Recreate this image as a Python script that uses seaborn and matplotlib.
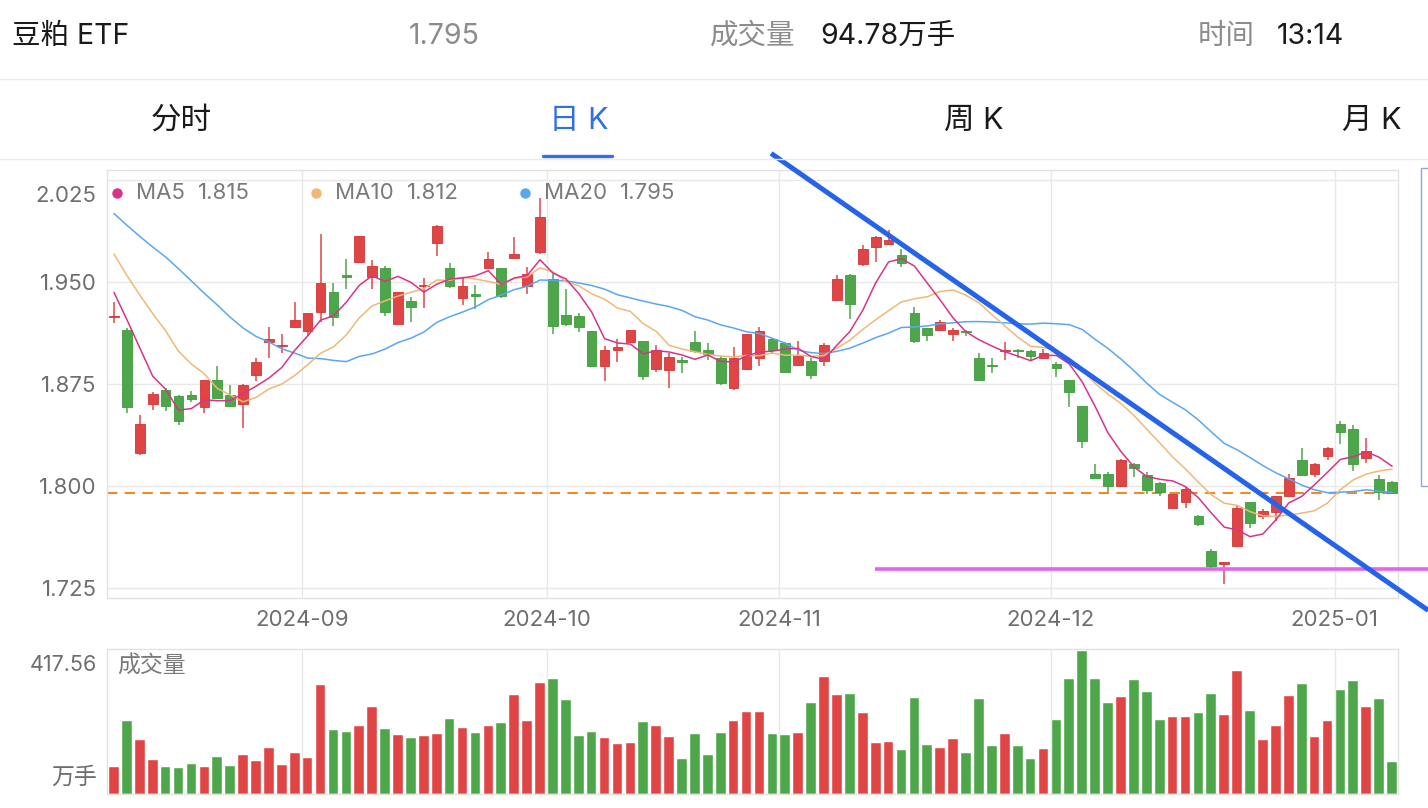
import numpy as np
import pandas as pd
import seaborn as sns
import matplotlib.pyplot as plt
from matplotlib.lines import Line2D
from matplotlib.patches import Rectangle
from matplotlib.transforms import ScaledTranslation

# -------------------------------------------------
# Data (daily K, 2024-08-12 .. 2025-01-08)
# -------------------------------------------------
open_ = [1.924, 1.915, 1.824, 1.860, 1.871, 1.866, 1.867, 1.858, 1.878, 1.867,
         1.860, 1.882, 1.906, 1.903, 1.917, 1.914, 1.928, 1.943, 1.955, 1.965,
         1.954, 1.960, 1.919, 1.936, 1.947, 1.979, 1.960, 1.938, 1.941, 1.960,
         1.960, 1.968, 1.947, 1.972, 1.952, 1.926, 1.925, 1.914, 1.888, 1.900,
         1.906, 1.907, 1.886, 1.885, 1.893, 1.906, 1.900, 1.894, 1.872, 1.886,
         1.894, 1.908, 1.905, 1.889, 1.892, 1.892, 1.937, 1.955, 1.963, 1.976,
         1.978, 1.970, 1.927, 1.916, 1.915, 1.912, 1.914, 1.894, 1.889, 1.899,
         1.900, 1.899, 1.894, 1.890, 1.878, 1.859, 1.809, 1.809, 1.800, 1.816,
         1.808, 1.802, 1.784, 1.788, 1.778, 1.752, 1.743, 1.756, 1.788, 1.778,
         1.781, 1.793, 1.819, 1.809, 1.822, 1.846, 1.842, 1.821, 1.805, 1.803]
high = [1.935, 1.916, 1.852, 1.869, 1.872, 1.867, 1.870, 1.878, 1.888, 1.874,
        1.875, 1.894, 1.917, 1.912, 1.935, 1.927, 1.985, 1.949, 1.967, 1.984,
        1.966, 1.962, 1.943, 1.939, 1.953, 1.992, 1.964, 1.953, 1.948, 1.972,
        1.960, 1.983, 1.961, 2.012, 1.956, 1.945, 1.927, 1.914, 1.903, 1.908,
        1.915, 1.907, 1.904, 1.898, 1.895, 1.914, 1.905, 1.896, 1.902, 1.912,
        1.917, 1.909, 1.906, 1.907, 1.894, 1.905, 1.955, 1.956, 1.977, 1.984,
        1.988, 1.974, 1.932, 1.916, 1.922, 1.916, 1.915, 1.898, 1.894, 1.906,
        1.901, 1.900, 1.901, 1.891, 1.878, 1.859, 1.816, 1.810, 1.820, 1.817,
        1.810, 1.803, 1.794, 1.799, 1.779, 1.754, 1.744, 1.785, 1.788, 1.783,
        1.793, 1.809, 1.828, 1.817, 1.829, 1.848, 1.845, 1.835, 1.808, 1.804]
low = [1.920, 1.854, 1.823, 1.856, 1.855, 1.845, 1.862, 1.854, 1.865, 1.858,
       1.843, 1.877, 1.894, 1.898, 1.917, 1.910, 1.921, 1.918, 1.945, 1.964,
       1.945, 1.925, 1.919, 1.921, 1.931, 1.969, 1.946, 1.933, 1.930, 1.960,
       1.938, 1.967, 1.941, 1.971, 1.912, 1.918, 1.913, 1.888, 1.877, 1.891,
       1.905, 1.878, 1.884, 1.872, 1.883, 1.898, 1.893, 1.874, 1.871, 1.885,
       1.888, 1.897, 1.884, 1.888, 1.879, 1.888, 1.936, 1.923, 1.962, 1.965,
       1.977, 1.961, 1.905, 1.907, 1.914, 1.907, 1.910, 1.877, 1.883, 1.893,
       1.894, 1.893, 1.894, 1.880, 1.858, 1.828, 1.806, 1.796, 1.799, 1.807,
       1.794, 1.793, 1.784, 1.784, 1.771, 1.740, 1.728, 1.755, 1.769, 1.776,
       1.774, 1.793, 1.808, 1.807, 1.819, 1.831, 1.811, 1.817, 1.790, 1.794]
close = [1.925, 1.858, 1.846, 1.868, 1.859, 1.848, 1.864, 1.878, 1.865, 1.859,
         1.874, 1.891, 1.908, 1.904, 1.922, 1.927, 1.949, 1.924, 1.954, 1.984,
         1.962, 1.928, 1.943, 1.932, 1.948, 1.991, 1.947, 1.947, 1.940, 1.967,
         1.940, 1.971, 1.956, 1.998, 1.918, 1.919, 1.917, 1.888, 1.900, 1.902,
         1.915, 1.881, 1.900, 1.895, 1.891, 1.899, 1.897, 1.876, 1.894, 1.912,
         1.914, 1.900, 1.884, 1.896, 1.882, 1.904, 1.952, 1.934, 1.974, 1.983,
         1.981, 1.964, 1.907, 1.911, 1.921, 1.915, 1.913, 1.878, 1.888, 1.900,
         1.899, 1.896, 1.898, 1.887, 1.869, 1.833, 1.806, 1.800, 1.819, 1.813,
         1.797, 1.796, 1.794, 1.798, 1.772, 1.741, 1.744, 1.784, 1.773, 1.782,
         1.793, 1.806, 1.808, 1.816, 1.828, 1.840, 1.816, 1.826, 1.796, 1.795]
volume = [78.4, 213.7, 157.8, 100.0, 78.4, 75.5, 88.2, 78.4, 106.8, 82.3,
          113.7, 97.0, 135.3, 85.3, 119.6, 105.9, 318.6, 187.2, 181.3, 198.0,
          253.9, 189.2, 171.5, 163.7, 169.6, 175.5, 217.6, 193.1, 177.4, 199.0,
          207.8, 289.2, 211.7, 324.4, 334.2, 274.5, 168.6, 181.3, 162.7, 146.0,
          149.0, 210.7, 197.0, 165.7, 101.9, 174.5, 112.7, 177.4, 212.7, 239.2,
          239.2, 174.5, 171.5, 177.4, 266.6, 341.1, 288.2, 292.1, 236.2, 149.0,
          152.9, 127.4, 280.3, 142.1, 135.3, 159.8, 119.6, 277.4, 140.2, 175.5,
          140.2, 101.0, 131.3, 214.7, 336.2, 417.56, 336.2, 266.6, 283.3, 333.3,
          299.0, 216.6, 225.4, 225.4, 236.2, 292.1, 230.3, 358.8, 242.1, 157.8,
          198.0, 286.2, 321.5, 165.7, 212.7, 304.8, 329.4, 253.9, 277.4, 94.78]
# closes before the first visible candle, only used to seed the moving averages
warmup_close = [2.030, 2.010, 2.025, 2.005, 2.020, 2.045, 2.060, 2.035, 2.040, 2.032,
                2.015, 1.990, 2.005, 1.985, 1.999, 1.958, 1.950, 1.972, 1.907]

month_labels = ["2024-09", "2024-10", "2024-11", "2024-12", "2025-01"]
month_start = [15, 34, 52, 73, 95]
price_ticks = [1.725, 1.800, 1.875, 1.950, 2.025]

# hand-drawn annotations on the chart (candle index, price)
trend_line = ([50.9, 101.8], [2.0446, 1.7086])
support_line = ([58.95, 101.8], [1.7387, 1.7387])

RED = "#e04545"
GREEN = "#4ea64a"
C_MA5, C_MA10, C_MA20 = "#d8338a", "#f0b878", "#5aa7f0"
GRID = "#e8e8e8"
GRAY = "#7a7a7a"

W, H = 1428, 808


def box(x0, y0, x1, y1):
    return [x0 / W, 1 - y1 / H, (x1 - x0) / W, (y1 - y0) / H]


def fx(x):
    return x / W


def fy(y):
    return 1 - y / H


sns.set_theme(style="white")
plt.rcParams["font.family"] = ["Inter", "Noto Sans CJK SC", "DejaVu Sans"]

n = len(close)
idx = np.arange(n)
o, h, l, c = map(np.array, (open_, high, low, close))
up = c >= o

full = pd.Series(warmup_close + close)
ma = {k: full.rolling(k).mean().iloc[len(warmup_close):].to_numpy() for k in (5, 10, 20)}

fig = plt.figure(figsize=(W / 100, H / 100), dpi=100)
fig.patch.set_facecolor("white")

# -------------------------------------------------
# Header
# -------------------------------------------------
hs = 20.5
fig.text(fx(12), fy(36), "豆粕 ETF", fontsize=hs, color="#1a1a1a", va="center")
fig.text(fx(444), fy(36), f"{close[-1]:.3f}", fontsize=hs, color="#8c8c8c", va="center", ha="center")
fig.text(fx(710), fy(36), "成交量", fontsize=hs, color="#8c8c8c", va="center")
fig.text(fx(820), fy(36), f"{volume[-1]:.2f}万手", fontsize=hs, color="#1a1a1a", va="center")
fig.text(fx(1198), fy(36), "时间", fontsize=hs, color="#8c8c8c", va="center")
fig.text(fx(1277), fy(36), "13:14", fontsize=hs, color="#1a1a1a", va="center")

for x, t, col in [(181, "分时", "#1a1a1a"), (579, "日 K", "#2f6fe8"),
                  (974, "周 K", "#1a1a1a"), (1372, "月 K", "#1a1a1a")]:
    fig.text(fx(x), fy(121), t, fontsize=22, color=col, va="center", ha="center")

fig.add_artist(Line2D([0, 1], [fy(79), fy(79)], color="#ececec", lw=1))
fig.add_artist(Line2D([0, 1], [fy(158.5), fy(158.5)], color="#ececec", lw=1))
fig.add_artist(Line2D([fx(543), fx(612)], [fy(156), fy(156)], color="#2f6fe8", lw=2.4))

# -------------------------------------------------
# Price panel
# -------------------------------------------------
ax = fig.add_axes(box(107, 170, 1398, 598))
xlim = (-0.54, 99.46)

ax.vlines(idx, l, h, colors=np.where(up, RED, GREEN), lw=1.1, zorder=3)
body = np.maximum(np.abs(c - o), 0.0008)
ax.bar(idx, body, bottom=np.minimum(o, c), width=0.75,
       color=np.where(up, RED, GREEN), edgecolor=np.where(up, "#d03535", "#3f9a3c"),
       lw=0.6, zorder=4)

for k, col in [(20, C_MA20), (10, C_MA10), (5, C_MA5)]:
    sns.lineplot(x=idx, y=ma[k], color=col, lw=1.1, ax=ax, zorder=5)

ax.axhline(close[-1], color="#ef8a2a", lw=1.5, ls=(0, (5, 3.5)), zorder=2)

ax.set_xlim(*xlim)
ax.set_ylim(1.7177, 2.0324)
ax.set_yticks(price_ticks)
ax.set_yticklabels([f"{t:.3f}" for t in price_ticks])
ax.set_xticks([m - 0.45 for m in month_start])
ax.set_xticklabels(month_labels)
ax.grid(True, color=GRID, lw=1)
ax.tick_params(length=0, labelsize=16, colors="#6e6e6e", pad=7.5)
ax.tick_params(axis="x", pad=9)
for s in ax.spines.values():
    s.set_color("#e2e2e2")
    s.set_linewidth(1)
ax.set_xlabel("")
ax.set_ylabel("")
top_lbl = ax.get_yticklabels()[-1]
top_lbl.set_transform(top_lbl.get_transform() + ScaledTranslation(0, -0.14, fig.dpi_scale_trans))

# legend row
for (x_dot, x_val, name, k, col) in [(117, 198, "MA5", 5, C_MA5),
                                      (316, 407, "MA10", 10, C_MA10),
                                      (525, 620, "MA20", 20, C_MA20)]:
    fig.add_artist(Line2D([fx(x_dot)], [fy(193)], marker="o", ms=6.5, color=col, lw=0))
    fig.text(fx(x_dot + 19), fy(193), name, fontsize=16, color=GRAY, va="center")
    fig.text(fx(x_val), fy(193), f"{ma[k][-1]:.3f}", fontsize=16, color=GRAY, va="center")

# hand-drawn lines
ax.plot(*trend_line, color="#2563eb", lw=3.6, solid_capstyle="butt", clip_on=False, zorder=8)
ax.plot(*support_line, color="#e463f0", lw=2.6, solid_capstyle="butt", clip_on=False, zorder=7)

# partially visible tooltip box on the right edge
fig.add_artist(Rectangle((fx(1421), fy(486)), fx(30), fy(168) - fy(486),
                         facecolor="white", edgecolor="#8fa8cc", lw=1))

# -------------------------------------------------
# Volume panel
# -------------------------------------------------
axv = fig.add_axes(box(107, 649, 1398, 794))
vol_df = pd.DataFrame({"idx": idx, "vol": volume, "dir": np.where(up, "up", "down")})
sns.barplot(data=vol_df, x="idx", y="vol", hue="dir", palette={"up": RED, "down": GREEN},
            native_scale=True, dodge=False, width=0.75, saturation=1, legend=False,
            edgecolor="white", linewidth=0.3, ax=axv)
axv.set_xlim(*xlim)
axv.set_ylim(0, 423)
axv.set_xticks([m - 0.45 for m in month_start])
axv.set_xticklabels([])
axv.set_yticks([])
axv.grid(True, axis="x", color=GRID, lw=1)
axv.tick_params(length=0)
axv.set_xlabel("")
axv.set_ylabel("")
for s in axv.spines.values():
    s.set_color("#e2e2e2")
    s.set_linewidth(1)

fig.text(fx(97), fy(665), f"{max(volume):.2f}", fontsize=15.5, color="#6e6e6e", va="center", ha="right")
fig.text(fx(97), fy(778), "万手", fontsize=16.5, color="#6e6e6e", va="center", ha="right")
fig.text(fx(117), fy(667), "成交量", fontsize=16.5, color=GRAY, va="center")

fig.savefig("out.png", dpi=100, facecolor="white")
